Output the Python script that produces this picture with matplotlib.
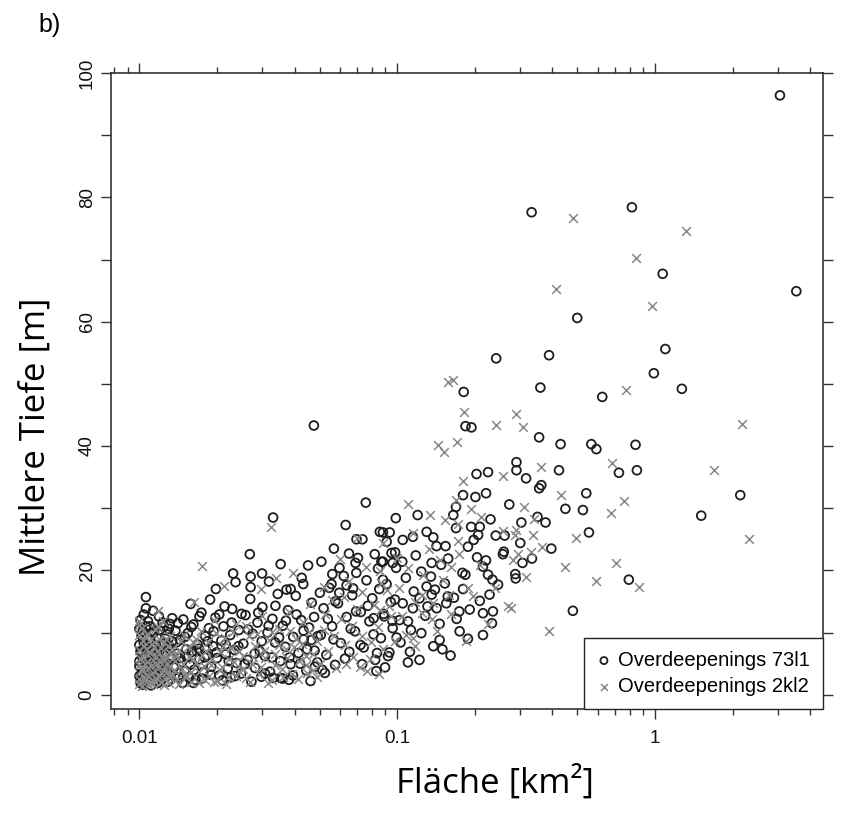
import matplotlib
matplotlib.use('Agg')
import matplotlib.pyplot as plt
from matplotlib.ticker import NullFormatter

plt.rcParams['font.family'] = ['Liberation Sans', 'DejaVu Sans']

# Overdeepenings 73l1 (circles): (area km2, mean depth m)
c73_dense = [
    (0.0101,2.1),(0.0102,3.4),(0.0100,4.6),(0.0103,5.8),(0.0101,7.0),(0.0104,8.3),(0.0102,9.5),(0.0100,10.6),
    (0.0105,3.0),(0.0106,6.4),(0.0107,4.1),(0.0108,11.8),(0.0109,2.6),(0.0110,8.9),(0.0111,5.2),(0.0112,7.6),
    (0.0113,3.8),(0.0114,10.1),(0.0115,6.1),(0.0116,2.3),(0.0117,9.2),(0.0118,4.7),(0.0119,12.6),(0.0120,7.1),
    (0.0121,3.2),(0.0122,5.5),(0.0123,8.2),(0.0124,10.9),(0.0125,4.0),(0.0126,6.8),(0.0127,2.9),(0.0128,9.7),
    (0.0129,5.0),(0.0130,7.9),(0.0131,11.4),(0.0132,3.5),(0.0133,6.0),(0.0134,8.6),(0.0104,12.9),(0.0113,13.5),
    (0.0136,4.4),(0.0138,10.3),(0.0140,6.6),(0.0142,2.7),(0.0144,8.8),(0.0146,5.3),(0.0148,12.1),(0.0150,3.9),
    (0.0152,7.3),(0.0154,9.9),(0.0157,4.8),(0.0160,6.9),(0.0162,11.3),(0.0165,2.4),(0.0168,8.1),(0.0171,5.7),
    (0.0174,13.2),(0.0177,3.6),(0.0180,9.4),(0.0183,6.3),(0.0186,10.7),(0.0190,4.5),(0.0193,7.8),(0.0197,12.4),
    (0.0200,5.9),(0.0204,3.1),(0.0208,8.7),(0.0212,11.0),(0.0216,6.5),(0.0220,4.2),(0.0225,9.6),(0.0229,13.8),
    (0.0234,7.2),(0.0238,5.1),(0.0243,10.4),(0.0248,3.4),(0.0158,14.6),(0.0188,15.3),(0.0214,14.2),(0.0170,7.4),
    (0.0253,8.2),(0.0258,12.8),(0.0263,5.6),(0.0269,15.4),(0.0275,9.8),(0.0281,4.3),(0.0287,11.6),(0.0293,7.0),
    (0.0300,14.1),(0.0307,6.2),(0.0314,10.0),(0.0321,3.7),(0.0328,12.2),(0.0336,8.4),(0.0344,16.2),(0.0352,5.4),
    (0.0360,11.1),(0.0368,7.7),(0.0377,13.6),(0.0386,4.9),(0.0395,9.3),(0.0404,15.9),(0.0414,6.7),(0.0424,12.0),
    (0.0434,8.9),(0.0444,3.9),(0.0455,10.8),(0.0466,14.8),(0.0478,7.1),(0.0490,5.2),(0.0270,17.3),(0.0318,18.2),
    (0.0372,16.9),(0.0426,18.8),(0.0297,2.9),(0.0380,2.4),
]
c73_dense2 = [
    (0.0100,3.0),(0.0100,5.4),(0.0100,8.0),(0.0101,12.0),(0.0102,6.7),(0.0103,1.6),(0.0103,10.2),(0.0105,7.7),
    (0.0106,2.0),(0.0107,9.1),(0.0108,5.9),(0.0109,3.6),(0.0110,11.0),(0.0111,1.5),(0.0112,4.4),(0.0113,9.9),
    (0.0114,6.9),(0.0115,3.3),(0.0116,8.0),(0.0117,5.6),(0.0118,1.9),(0.0119,10.4),(0.0120,4.2),(0.0122,2.5),
    (0.0123,11.6),(0.0124,6.4),(0.0126,9.0),(0.0127,4.7),(0.0129,2.1),(0.0130,10.6),(0.0132,5.8),(0.0134,12.3),
    (0.0137,3.0),(0.0139,8.4),(0.0141,11.5),(0.0144,5.9),(0.0147,1.9),(0.0150,9.3),(0.0153,6.0),(0.0156,2.8),
    (0.0159,10.9),(0.0163,4.0),(0.0167,7.0),(0.0171,12.6),(0.0175,2.6),(0.0179,6.0),(0.0184,8.6),(0.0189,3.2),
    (0.0194,10.2),(0.0199,6.8),(0.0204,12.9),(0.0210,2.3),(0.0216,8.1),(0.0222,5.4),(0.0228,11.6),(0.0235,3.0),
    (0.0242,7.8),(0.0249,13.0),(0.0256,4.9),(0.0264,10.5),(0.0272,2.1),(0.0280,6.6),(0.0289,13.2),(0.0298,8.6),
    (0.0307,3.4),(0.0317,11.1),(0.0327,6.0),(0.0337,14.3),(0.0348,9.2),(0.0359,2.6),(0.0370,11.9),(0.0382,6.0),
    (0.0394,3.1),(0.0407,12.9),(0.0420,5.0),(0.0433,10.3),(0.0447,7.3),(0.0461,2.2),(0.0476,12.5),(0.0491,9.4),
]
c73_mid = [
    (0.0505,9.6),(0.0518,13.9),(0.0531,6.4),(0.0545,17.2),(0.0559,11.0),(0.0574,4.8),(0.0589,14.7),(0.0604,8.3),
    (0.0620,19.1),(0.0636,12.5),(0.0652,6.9),(0.0669,16.0),(0.0686,10.2),(0.0704,22.0),(0.0722,13.3),(0.0741,7.6),
    (0.0760,18.4),(0.0780,11.8),(0.0800,15.5),(0.0821,5.6),(0.0842,20.3),(0.0864,9.1),(0.0886,13.0),(0.0909,17.8),
    (0.0932,6.8),(0.0956,11.9),(0.0981,22.9),(0.0575,15.0),(0.0692,13.4),(0.0810,12.3),
    (0.0755,30.9),(0.0631,27.3),(0.0330,28.5),(0.0695,25.0),(0.0733,25.0),(0.0568,23.5),(0.0268,22.6),
    (0.0451,20.8),(0.0508,21.4),(0.0353,21.0),(0.0299,19.5),(0.0231,19.5),(0.0236,18.1),(0.0270,19.0),
    (0.0198,17.0),(0.0106,15.7),(0.0106,13.9),(0.0106,11.0),(0.0386,17.0),(0.0432,17.8),(0.0501,16.4),
    (0.0556,17.8),(0.0636,17.6),(0.0674,17.1),(0.0597,20.4),(0.0689,21.2),(0.0818,22.6),(0.0868,21.4),
    (0.0880,18.5),(0.0330,2.7),(0.0353,2.7),(0.0524,3.5),(0.0226,2.8),(0.0162,1.9),(0.0101,1.9),(0.0835,6.7),
    (0.0921,6.2),(0.0479,4.5),(0.0465,8.8),(0.0475,43.3),
]
c73_mid2 = [
    (0.0512,4.0),(0.0538,12.2),(0.0566,8.9),(0.0596,16.4),(0.0627,5.8),(0.0660,10.6),(0.0694,19.6),(0.0731,4.9),
    (0.0769,14.3),(0.0809,9.7),(0.0852,17.0),(0.0897,4.4),(0.0944,14.9),(0.0994,9.2),(0.1046,21.4),(0.1101,11.8),
    (0.1159,16.6),(0.1220,5.6),(0.1284,12.7),(0.1351,19.0),(0.1422,13.9),(0.1497,7.3),(0.1576,21.9),(0.1659,15.6),
    (0.1746,10.2),(0.1838,19.3),(0.1935,27.0),(0.0650,22.7),(0.0880,26.1),(0.0560,19.4),(0.0720,8.0),(0.0830,3.8),
    (0.1100,5.2),(0.1300,26.2),(0.1650,28.9),
]
c73_upper = [
    (0.103,8.4),(0.108,18.8),(0.112,6.9),(0.118,22.4),(0.124,9.9),(0.131,14.2),(0.138,25.3),(0.146,11.4),
    (0.153,17.9),(0.161,6.3),(0.170,12.2),(0.179,19.6),(0.188,9.0),(0.198,24.9),(0.209,15.1),(0.221,21.6),
    (0.233,11.5),(0.246,17.7),(0.259,23.0),(0.272,30.6),(0.287,19.4),(0.300,24.4),(0.316,34.8),(0.333,21.9),
    (0.350,28.6),
    (1.07,67.7),(3.53,64.9),(0.499,60.6),(1.096,55.6),(0.242,54.1),(0.388,54.6),(0.989,51.7),(1.27,49.2),
    (0.359,49.4),(0.624,47.9),(0.181,48.7),(0.184,43.2),(0.194,43.0),(0.355,41.4),(0.430,40.3),(0.566,40.3),
    (0.592,39.5),(0.840,40.2),(0.724,35.7),(0.850,36.1),(0.290,37.4),(0.290,36.1),(0.424,36.1),(0.203,35.5),
    (0.225,35.8),(2.14,32.1),(1.51,28.8),(0.541,32.4),(0.449,29.9),(0.525,29.7),(0.554,26.1),(0.791,18.5),
    (0.480,13.5),(0.396,23.5),(0.376,27.7),(0.355,33.2),(0.362,33.7),(0.230,28.2),(0.209,27.0),(0.206,25.7),
    (0.241,25.6),(0.261,25.6),(0.303,27.7),(0.180,32.1),(0.201,31.8),(0.221,32.4),(0.169,30.2),(0.169,26.8),
    (0.120,28.9),(0.0987,28.4),(0.306,21.2),(0.288,18.7),(0.257,22.6),(0.215,20.6),(0.225,19.3),(0.234,18.5),
    (0.188,23.8),(0.204,22.1),(0.142,23.9),(0.154,23.9),(0.148,20.9),(0.136,21.2),(0.124,19.8),(0.180,17.0),
    (0.191,13.7),(0.174,13.4),(0.215,13.1),(0.235,13.4),(0.228,16.1),(0.215,9.6),(0.157,15.8),(0.155,14.7),
    (0.136,16.1),(0.122,15.5),(0.115,13.9),(0.098,15.3),(0.105,14.7),(0.096,21.2),(0.088,21.4),(0.099,20.4),
    (0.095,22.8),(0.091,24.6),(0.0856,26.2),(0.0935,26.1),(0.105,24.9),(0.115,25.4),(0.096,10.7),(0.113,10.4),
    (0.146,8.8),(0.138,7.8),(0.130,17.4),(0.140,16.9),(0.089,12.6),(0.102,12.0),
    (3.05,96.4),(0.813,78.4),(0.332,77.6),
]

# Overdeepenings 2kl2 (crosses)
x2k_dense = [
    (0.0100,1.8),(0.0101,3.9),(0.0102,6.2),(0.0103,8.7),(0.0100,11.2),(0.0104,2.9),(0.0105,5.0),(0.0106,7.4),
    (0.0107,9.8),(0.0108,4.3),(0.0109,1.5),(0.0110,6.7),(0.0111,3.3),(0.0112,8.1),(0.0113,5.6),(0.0114,2.2),
    (0.0115,10.5),(0.0116,4.9),(0.0117,7.0),(0.0118,3.0),(0.0119,9.0),(0.0120,5.3),(0.0121,2.0),(0.0122,6.1),
    (0.0123,11.9),(0.0124,4.0),(0.0125,8.4),(0.0126,2.6),(0.0127,5.9),(0.0128,3.6),(0.0129,7.8),(0.0130,1.9),
    (0.0131,4.6),(0.0132,9.4),(0.0133,6.5),(0.0134,3.1),
    (0.0137,5.4),(0.0140,2.5),(0.0143,7.2),(0.0146,4.1),(0.0149,9.6),(0.0152,2.8),(0.0156,6.0),(0.0159,3.7),
    (0.0163,8.3),(0.0166,5.1),(0.0170,1.9),(0.0174,10.2),(0.0178,4.6),(0.0182,7.0),(0.0186,3.0),(0.0191,5.8),
    (0.0195,12.0),(0.0200,2.2),(0.0205,6.8),(0.0210,4.4),(0.0215,9.1),(0.0220,2.9),(0.0226,7.5),(0.0232,5.2),
    (0.0238,11.4),(0.0244,3.8),
    (0.0252,6.3),(0.0259,2.7),(0.0266,9.5),(0.0274,4.9),(0.0282,7.9),(0.0290,3.4),(0.0299,12.7),(0.0308,5.9),
    (0.0317,8.8),(0.0327,2.4),(0.0337,6.6),(0.0347,10.6),(0.0358,4.2),(0.0369,7.4),(0.0380,13.3),(0.0392,3.3),
    (0.0404,9.0),(0.0417,5.5),(0.0430,11.7),(0.0444,6.2),(0.0458,14.6),(0.0472,4.0),(0.0487,8.6),
    (0.0175,20.7),(0.0100,11.9),(0.0118,13.4),(0.0163,14.9),(0.0296,17.0),(0.0445,3.5),(0.0324,26.9),
    (0.0394,19.5),(0.0212,17.5),(0.0340,18.7),
]
x2k_dense2 = [
    (0.0100,2.6),(0.0100,4.8),(0.0100,7.2),(0.0100,9.6),(0.0101,5.7),(0.0102,1.4),(0.0102,10.8),(0.0103,4.0),
    (0.0104,7.9),(0.0105,2.4),(0.0106,9.3),(0.0107,5.3),(0.0108,3.0),(0.0109,6.9),(0.0110,2.0),(0.0111,8.9),
    (0.0112,4.8),(0.0113,1.7),(0.0114,7.7),(0.0115,3.8),(0.0116,6.3),(0.0117,2.5),(0.0118,10.9),(0.0119,4.4),
    (0.0121,7.5),(0.0122,3.5),(0.0124,5.7),(0.0125,1.6),(0.0127,9.0),(0.0128,4.9),(0.0130,6.9),(0.0132,2.8),
    (0.0134,7.4),(0.0136,3.9),(0.0139,6.2),(0.0142,1.7),(0.0145,8.6),(0.0148,5.0),(0.0151,3.2),(0.0155,7.6),
    (0.0158,2.0),(0.0162,5.8),(0.0166,9.0),(0.0170,3.7),(0.0175,6.4),(0.0179,2.4),(0.0184,8.4),(0.0189,4.7),
    (0.0194,2.0),(0.0199,9.9),(0.0205,4.0),(0.0211,7.9),(0.0217,1.8),(0.0223,5.8),(0.0230,10.1),(0.0237,3.0),
    (0.0244,7.1),(0.0252,4.2),(0.0260,11.0),(0.0268,2.0),(0.0277,6.1),(0.0286,9.8),(0.0295,4.5),(0.0305,7.0),
    (0.0315,1.9),(0.0326,10.1),(0.0337,4.7),(0.0348,8.0),(0.0360,2.9),(0.0372,5.9),(0.0385,10.2),(0.0398,7.6),
    (0.0412,2.6),(0.0426,8.2),(0.0441,4.8),(0.0456,10.1),(0.0472,6.6),(0.0488,2.9),
]
x2k_mid = [
    (0.0502,5.0),(0.0520,10.4),(0.0540,7.1),(0.0560,15.2),(0.0581,4.3),(0.0603,12.1),(0.0626,8.0),(0.0650,18.3),
    (0.0675,6.1),(0.0700,13.8),(0.0727,9.5),(0.0755,20.6),(0.0784,5.7),(0.0814,14.4),(0.0845,10.9),(0.0877,7.3),
    (0.0910,16.9),(0.0945,12.6),(0.0981,8.7),(0.0633,4.9),(0.0760,3.8),(0.0520,17.4),(0.0716,4.5),
    (0.104,12.6),(0.110,20.3),(0.117,7.9),(0.125,16.1),(0.133,23.5),(0.142,10.2),(0.151,18.4),(0.161,13.0),
    (0.172,24.7),(0.184,8.6),(0.196,15.8),(0.210,20.9),(0.224,11.3),(0.240,17.2),(0.257,26.3),(0.275,14.0),
    (0.295,22.6),(0.316,18.9),(0.340,28.3),(0.365,23.8),
    (0.0525,13.0),(0.0570,9.4),(0.0620,15.7),(0.0670,11.0),(0.0730,16.5),(0.0790,8.4),(0.0860,19.9),(0.0930,14.3),
    (0.1000,22.0),(0.1080,9.6),(0.1170,14.9),(0.1260,19.2),(0.1360,12.1),(0.1470,21.6),(0.1590,16.0),(0.1720,27.5),
    (0.0600,21.9),(0.0700,25.2),(0.0850,3.3),(0.1150,26.0),
]
x2k_upper = [
    (0.840,70.3),(0.414,65.3),(0.975,62.5),(0.774,49.0),(1.32,74.6),(0.164,50.6),(0.158,50.3),(0.181,45.5),
    (0.288,45.2),(0.307,43.1),(0.242,43.4),(0.144,40.2),(0.152,39.1),(0.170,40.7),(2.17,43.5),(1.70,36.1),
    (2.32,25.0),(0.683,37.2),(0.756,31.2),(0.672,29.2),(0.703,21.2),(0.591,18.3),(0.868,17.4),(0.447,20.6),
    (0.388,10.2),(0.495,25.2),(0.362,36.7),(0.433,32.1),(0.336,25.7),(0.331,22.9),(0.285,25.7),(0.290,26.5),
    (0.309,30.2),(0.257,35.1),(0.180,34.3),(0.169,31.3),(0.194,29.8),(0.212,28.6),(0.153,28.1),(0.110,30.7),
    (0.134,28.9),(0.174,22.6),(0.281,21.7),(0.269,14.2),(0.125,13.1),(0.115,9.1),(0.162,20.6),(0.138,14.7),
    (0.188,17.1),(0.0856,13.7),(0.102,17.1),(0.0868,17.9),(0.088,24.4),(0.479,76.6),
]

x_ticks = [0.01, 0.1, 1]
x_ticklabels = ['0.01', '0.1', '1']
y_ticks = [0, 20, 40, 60, 80, 100]

c73 = c73_dense + c73_dense2 + c73_mid + c73_mid2 + c73_upper
k2 = x2k_dense + x2k_dense2 + x2k_mid + x2k_upper

fig = plt.figure(figsize=(8.42, 8.16), dpi=100)
ax = fig.add_axes([111/842, 1-709/816, (823-111)/842, (709-73)/816])

ax.scatter([p[0] for p in c73], [p[1] for p in c73], s=40, marker='o', facecolors='none',
           edgecolors='#1e1e1e', linewidths=1.3, label='Overdeepenings 73l1', zorder=3)
ax.scatter([p[0] for p in k2], [p[1] for p in k2], s=40, marker='x', color='#888888',
           linewidths=1.1, label='Overdeepenings 2kl2', zorder=3)

ax.set_xscale('log')
ax.set_xlim(0.00776, 4.48)
ax.set_ylim(-2.3, 100)

ax.set_xticks(x_ticks)
ax.set_xticklabels(x_ticklabels)
ax.set_xticks([k * 10.0**e for e in (-3, -2, -1, 0) for k in range(2, 10)
               if 0.00776 < k * 10.0**e < 4.48], minor=True)
ax.xaxis.set_minor_formatter(NullFormatter())
ax.set_yticks(y_ticks)
ax.set_yticks([10, 30, 50, 70, 90], minor=True)

ax.tick_params(which='both', direction='out', top=True, right=True, colors='#333333',
               labelcolor='#111111', labelsize=13.5, width=1.0)
ax.tick_params(axis='x', which='major', length=7, pad=8)
ax.tick_params(axis='x', which='minor', length=4.5)
ax.tick_params(axis='y', which='both', length=7, pad=4)
for lab in ax.get_yticklabels():
    lab.set_rotation(90)
    lab.set_va('center')

for s in ax.spines.values():
    s.set_linewidth(1.2)
    s.set_color('#333333')

leg = ax.legend(loc='lower right', borderaxespad=0, fancybox=False, edgecolor='#222222',
                framealpha=1, fontsize=14.5, handlelength=0.7, handletextpad=0.35,
                borderpad=0.65, labelspacing=0.35, markerscale=0.8)
leg.get_frame().set_linewidth(1.0)
leg.set_zorder(5)

fig.text(38/842, 1-25/816, 'b)', fontsize=18, va='center', ha='left')
fig.text(495/842, 1-783/816, 'Fläche [km²]', fontsize=25, family='Open Sans',
         ha='center', va='center')
fig.text(36/842, 1-437/816, 'Mittlere Tiefe [m]', rotation=90, fontsize=25,
         family='Open Sans', ha='center', va='center')

fig.savefig('out.png', dpi=100)
